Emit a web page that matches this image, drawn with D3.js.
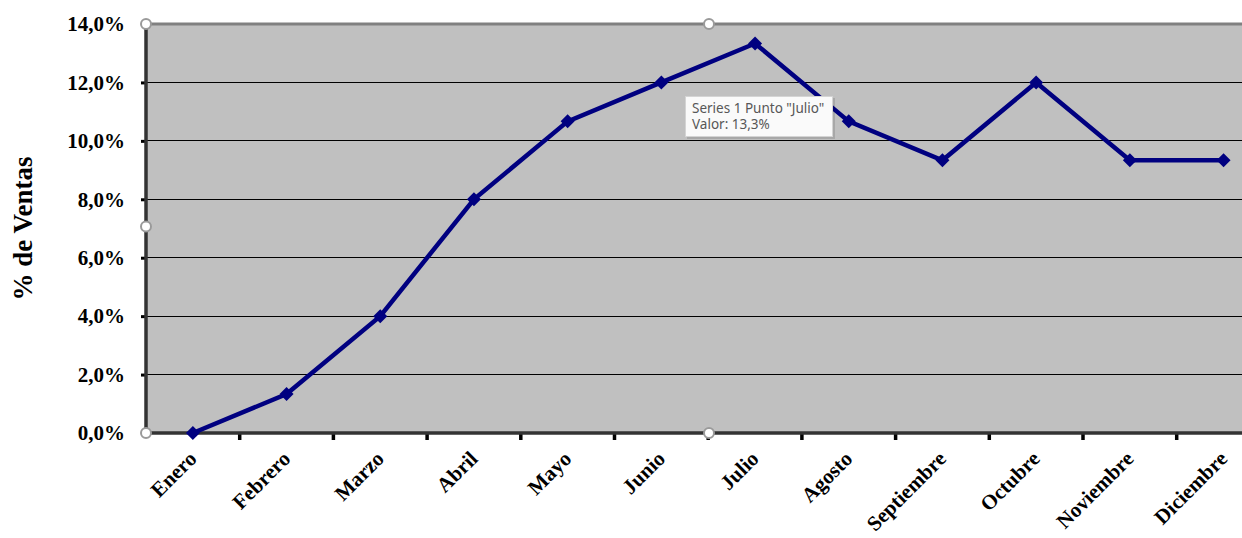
<!DOCTYPE html>
<html><head><meta charset="utf-8">
<script src="https://cdn.jsdelivr.net/npm/d3@7/dist/d3.min.js"></script>
<style>
html,body{margin:0;padding:0;background:#fff;overflow:hidden}
svg{display:block}
</style></head>
<body>
<svg id="c" width="1242" height="538"></svg>
<script>
const months = ["Enero","Febrero","Marzo","Abril","Mayo","Junio","Julio","Agosto","Septiembre","Octubre","Noviembre","Diciembre"];
const ventas = [0.0, 1.333, 4.0, 8.0, 10.667, 12.0, 13.333, 10.667, 9.333, 12.0, 9.333, 9.333];
const yTicks = [0, 2, 4, 6, 8, 10, 12, 14];
const yTitle = "% de Ventas";
const tipLines = ['Series 1 Punto "Julio"', 'Valor: 13,3%'];

const svg = d3.select("#c");
const L = 146, T = 24, B = 433, step = 93.7;
const x = d3.scaleBand().domain(months).range([L, L + step * months.length]).padding(0);
const y = d3.scaleLinear().domain([0, 14]).range([B, T]);
const serif = "'Liberation Serif','Times New Roman',serif";
const fmt = d => d3.format(".1f")(d).replace(".", ",") + "%";

// plot background
svg.append("rect").attr("x", L).attr("y", T).attr("width", 1242 - L + 10).attr("height", B - T).attr("fill", "#c0c0c0");

// gridlines
svg.append("g").selectAll("line").data(yTicks.filter(d => d > 0 && d < 14)).join("line")
  .attr("x1", L).attr("x2", 1250).attr("y1", d => y(d)).attr("y2", d => y(d))
  .attr("stroke", "#000").attr("stroke-width", 1).attr("shape-rendering", "crispEdges");

// top border
svg.append("line").attr("x1", L).attr("x2", 1250).attr("y1", y(14)).attr("y2", y(14))
  .attr("stroke", "#808080").attr("stroke-width", 3);

// y axis
const ya = svg.append("g").attr("transform", `translate(${L},0)`)
  .call(d3.axisLeft(y).tickValues(yTicks).tickFormat(fmt).tickSize(5).tickPadding(16));
ya.select(".domain").remove();
ya.selectAll(".tick line").attr("stroke", "#000").attr("stroke-width", 3);
ya.selectAll(".tick text").attr("font-family", serif).attr("font-weight", "bold").attr("font-size", 21).attr("fill", "#000");
svg.append("line").attr("x1", L).attr("x2", L).attr("y1", T - 1).attr("y2", B + 2)
  .attr("stroke", "#333").attr("stroke-width", 3.5);

// x axis
const xa = svg.append("g").attr("transform", `translate(0,${B})`)
  .call(d3.axisBottom(x).tickSize(0).tickFormat(d => d));
xa.select(".domain").remove();
xa.selectAll(".tick text")
  .attr("font-family", serif).attr("font-weight", "bold").attr("font-size", 21).attr("fill", "#000")
  .attr("text-anchor", "end").attr("dy", 0).attr("y", 0)
  .attr("transform", "translate(5,27) rotate(-45)");
svg.append("g").selectAll("line").data(months).join("line")
  .attr("x1", d => x(d) + x.bandwidth()).attr("x2", d => x(d) + x.bandwidth())
  .attr("y1", B).attr("y2", B + 7).attr("stroke", "#000").attr("stroke-width", 3.5);
svg.append("line").attr("x1", L - 1).attr("x2", 1250).attr("y1", B).attr("y2", B)
  .attr("stroke", "#333").attr("stroke-width", 3.5);

// y title
svg.append("text").attr("transform", `translate(32,${(T + B) / 2}) rotate(-90)`)
  .attr("text-anchor", "middle").attr("font-family", serif).attr("font-weight", "bold")
  .attr("font-size", 27).attr("fill", "#000").text(yTitle);

// line
const cx = d => x(d) + x.bandwidth() / 2;
svg.append("path").datum(months.map((m, i) => [m, ventas[i]]))
  .attr("d", d3.line().x(d => cx(d[0])).y(d => y(d[1])))
  .attr("fill", "none").attr("stroke", "#000080").attr("stroke-width", 4.5).attr("stroke-linejoin", "miter");
svg.append("g").selectAll("path").data(months.map((m, i) => [m, ventas[i]])).join("path")
  .attr("d", d3.symbol(d3.symbolDiamond2, 125))
  .attr("transform", d => `translate(${cx(d[0])},${y(d[1])})`)
  .attr("fill", "#000080");

// selection handles
const hx = [L, 709, L, L, 709], hy = [T, T, (T + B) / 2 - 2, B, B];
svg.append("g").selectAll("circle").data(hx).join("circle")
  .attr("cx", (d) => d).attr("cy", (d, i) => hy[i]).attr("r", 5)
  .attr("fill", "#fff").attr("stroke", "#9a9a9a").attr("stroke-width", 2);

// tooltip
const tip = svg.append("g").attr("transform", "translate(685,96)");
tip.append("rect").attr("x", 2).attr("y", 2).attr("width", 148).attr("height", 41).attr("fill", "#000").attr("opacity", 0.12);
tip.append("rect").attr("x", 0.5).attr("y", 0.5).attr("width", 147).attr("height", 40)
  .attr("fill", "#fafafa").attr("stroke", "#d4d4d4");
tip.selectAll("text").data(tipLines).join("text")
  .attr("x", 7).attr("y", (d, i) => 17 + i * 16)
  .attr("font-family", "'Noto Sans','Open Sans',sans-serif").attr("font-size", 13.5).attr("fill", "#575757")
  .text(d => d);
</script>
</body></html>
